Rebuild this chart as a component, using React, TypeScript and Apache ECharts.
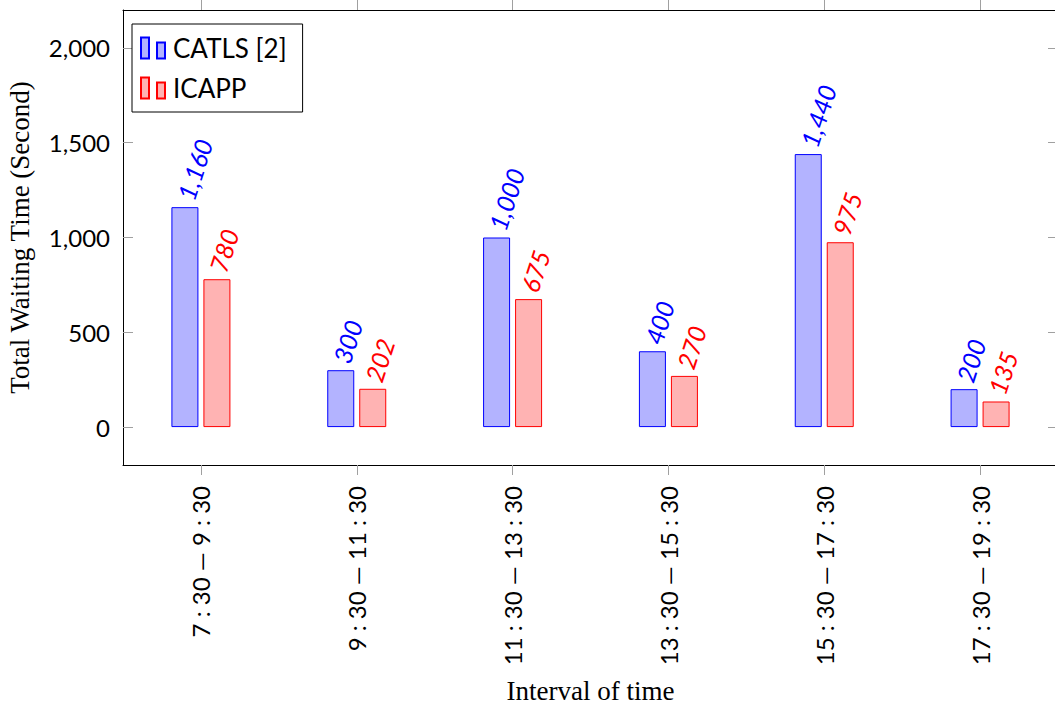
import React, { useEffect, useRef } from "react";
import * as echarts from "echarts";

const categories = [
  "7 : 30 — 9 : 30",
  "9 : 30 — 11 : 30",
  "11 : 30 — 13 : 30",
  "13 : 30 — 15 : 30",
  "15 : 30 — 17 : 30",
  "17 : 30 — 19 : 30",
];
const catlsValues = [1160, 300, 1000, 400, 1440, 200];
const icappValues = [780, 202, 675, 270, 975, 135];
const yTicks = [0, 500, 1000, 1500, 2000];

const SANS = "Lato";
const SERIF = "Liberation Serif";
const TICK_GRAY = "#a0a0a0";

function fmt(v: number) {
  return v.toLocaleString("en-US");
}

export default function App() {
  const ref = useRef<HTMLDivElement>(null);
  useEffect(() => {
    if (!ref.current) return;
    const chart = echarts.init(ref.current, null, { renderer: "svg" });
    const barLabel = (color: string) => ({
      show: true,
      position: "top",
      distance: 8,
      rotate: 72,
      align: "left",
      verticalAlign: "middle",
      color,
      fontFamily: SANS,
      fontStyle: "italic",
      fontSize: 25,
      formatter: (p: any) => fmt(p.value),
    });
    chart.setOption({
      animation: false,
      backgroundColor: "#ffffff",
      grid: {
        left: 123,
        top: 10,
        right: -3,
        bottom: 243,
        containLabel: false,
        outerBoundsMode: "none",
      },
      legend: {
        show: true,
        orient: "vertical",
        left: 132,
        top: 24,
        padding: [11, 16, 11, 8],
        itemGap: 14,
        itemWidth: 24,
        itemHeight: 21,
        borderColor: "#000",
        borderWidth: 1,
        backgroundColor: "#fff",
        icon: "path://M0,0h8v21h-8z M16,5h8v16h-8z",
        textStyle: {
          fontFamily: SANS,
          fontSize: 26,
          color: "#000",
          padding: [0, 0, 0, 3],
          lineHeight: 21,
        },
        data: ["CATLS [2]", "ICAPP"],
      },
      xAxis: [
        {
          type: "category",
          position: "bottom",
          data: categories,
          name: "Interval of time",
          nameLocation: "middle",
          nameGap: 212,
          nameTextStyle: { fontFamily: SERIF, fontSize: 27, color: "#000" },
          axisLine: { show: true, onZero: false, lineStyle: { color: "#000", width: 1 } },
          axisTick: {
            show: true,
            alignWithLabel: true,
            inside: false,
            length: 10,
            lineStyle: { color: TICK_GRAY },
          },
          axisLabel: {
            rotate: 90,
            margin: 21,
            fontFamily: SANS,
            fontSize: 24,
            color: "#000",
          },
          splitLine: { show: false },
        },
        {
          type: "category",
          position: "top",
          data: categories,
          axisLine: { show: true, onZero: false, lineStyle: { color: "#000", width: 1 } },
          axisTick: {
            show: true,
            alignWithLabel: true,
            inside: false,
            length: 10,
            lineStyle: { color: TICK_GRAY },
          },
          axisLabel: { show: false },
          splitLine: { show: false },
        },
      ],
      yAxis: [
        {
          type: "value",
          position: "left",
          min: -200,
          max: 2200,
          name: "Total Waiting Time (Second)",
          nameLocation: "middle",
          nameGap: 90,
          nameTextStyle: { fontFamily: SERIF, fontSize: 27, color: "#000" },
          axisLine: { show: true, onZero: false, lineStyle: { color: "#000", width: 1 } },
          axisTick: {
            show: true,
            inside: true,
            length: 10,
            customValues: yTicks,
            lineStyle: { color: TICK_GRAY },
          },
          axisLabel: {
            margin: 13,
            customValues: yTicks,
            fontFamily: SANS,
            fontSize: 24,
            color: "#000",
            formatter: (v: number) => fmt(v),
          },
          splitLine: { show: false },
        },
        {
          type: "value",
          position: "right",
          min: -200,
          max: 2200,
          axisLine: { show: true, onZero: false, lineStyle: { color: "#000", width: 1 } },
          axisTick: {
            show: true,
            inside: true,
            length: 10,
            customValues: yTicks,
            lineStyle: { color: TICK_GRAY },
          },
          axisLabel: { show: false },
          splitLine: { show: false },
        },
      ],
      series: [
        {
          name: "CATLS [2]",
          type: "bar",
          data: catlsValues,
          barWidth: 27,
          barGap: "18.5%",
          itemStyle: { color: "#b3b3ff", borderColor: "#0000ff", borderWidth: 1 },
          label: barLabel("#0000ff"),
        },
        {
          name: "ICAPP",
          type: "bar",
          data: icappValues,
          barWidth: 27,
          barGap: "18.5%",
          itemStyle: { color: "#ffb3b3", borderColor: "#ff0000", borderWidth: 1 },
          label: barLabel("#ff0000"),
        },
      ],
    });
    return () => chart.dispose();
  }, []);
  return (
    <div
      ref={ref}
      style={{ position: "fixed", left: 0, top: 0, width: 1055, height: 708 }}
    />
  );
}
